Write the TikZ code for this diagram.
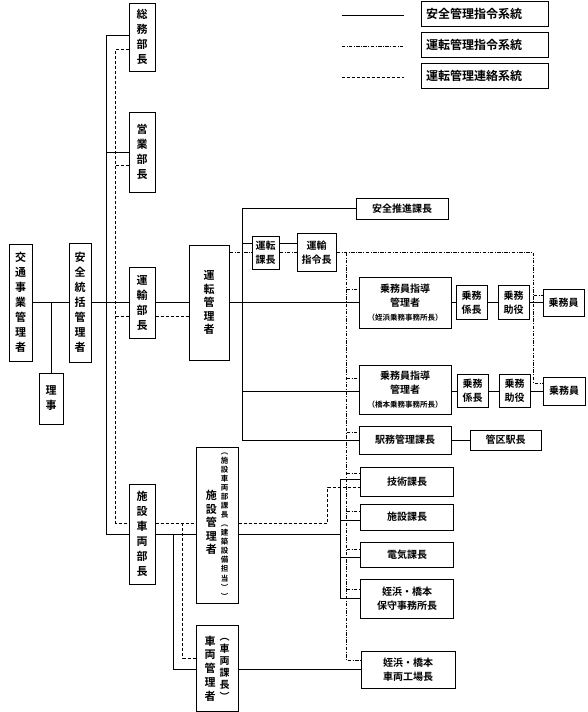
\documentclass[tikz,border=0pt]{standalone}
\usepackage{fontspec}
\setmainfont{Noto Sans CJK JP}[BoldFont={Noto Sans CJK JP Bold}]
\usetikzlibrary{positioning}
\newcommand{\tate}[2][c]{\begin{tabular}[#1]{@{}c@{}}#2\end{tabular}}

\begin{document}
\begin{tikzpicture}[x=1pt,y=-1pt,
 b/.style={draw,line width=1pt,inner sep=1pt,align=center,font=\fontsize{10}{14}\selectfont\bfseries},
 vb/.style={b,font=\fontsize{11}{15}\selectfont\bfseries},
 lg/.style={b,minimum width=127pt,minimum height=25pt,text width=117pt,align=left,font=\fontsize{12}{14}\selectfont\bfseries},
 sl/.style={line width=0.9pt},
 dd/.style={line width=0.9pt,dash pattern=on 3.5pt off 1.5pt on 0.8pt off 1.5pt},
 ds/.style={line width=0.9pt,dash pattern=on 3pt off 2pt}]
\path[use as bounding box,fill=white] (0,0) rectangle (587,712);
% legend
\node[lg] (lg1) at (484.5,13.5) {安全管理指令系統};
\node[lg] (lg2) at (484.5,44.5) {運転管理指令系統};
\node[lg] (lg3) at (484.5,75.5) {運転管理連絡系統};
\foreach \n/\s in {lg1/sl,lg2/dd,lg3/ds}
 \draw[\s] ([xshift=-79pt,yshift=-1.5pt]\n.west) -- ([xshift=-17pt,yshift=-1.5pt]\n.west);
% left column
\node[vb,minimum width=23pt,minimum height=117pt] (kot) at (20.5,302.5) {交\\通\\事\\業\\管\\理\\者};
\node[vb,minimum width=24pt,minimum height=51pt] (rij) at (51,398.5) {理\\事};
\node[vb,minimum width=22pt,minimum height=119pt] (ant) at (80,302.5) {安\\全\\統\\括\\管\\理\\者};
\node[vb,minimum width=26pt,minimum height=68pt] (som) at (142,37) {総\\務\\部\\長};
\node[vb,minimum width=26pt,minimum height=80pt] (eig) at (142,152) {営\\業\\部\\長};
\node[vb,minimum width=26pt,minimum height=71pt] (uny) at (142,302.5) {運\\輸\\部\\長};
\node[vb,minimum width=26pt,minimum height=100pt] (ssb) at (142,534) {施\\設\\車\\両\\部\\長};
\node[vb,minimum width=40pt,minimum height=115pt,font=\fontsize{11}{13.5}\selectfont\bfseries] (unk) at (209,302.5) {運\\転\\管\\理\\者};
\node[b,minimum width=42pt,minimum height=156pt,font=\fontsize{11}{13.5}\selectfont\bfseries] (skr) at (217,525)
 {\tate{施\\設\\管\\理\\者}\hspace{4pt}{\fontsize{7.5}{9}\selectfont\tate{︵\\施\\設\\車\\両\\部\\課\\長\\︵\\建\\築\\設\\備\\担\\当\\︶\\︶}}};
\node[b,minimum width=42pt,minimum height=86pt,font=\fontsize{11}{13.75}\selectfont\bfseries] (srk) at (217,668)
 {\tate[b]{車\\両\\管\\理\\者}\hspace{4pt}{\fontsize{10}{12}\selectfont\tate[b]{︵\\車\\両\\課\\長\\︶}}};
% right part
\node[b,minimum width=27pt,minimum height=33pt] (utk) at (265.5,252.5) {運転\\課長};
\node[b,minimum width=39pt,minimum height=38pt] (ysr) at (316.5,252.5) {運輸\\指令長};
\node[b,minimum width=92pt,minimum height=21pt] (asp) at (402,208.5) {安全推進課長};
\node[b,minimum width=92pt,minimum height=51pt] (jsa) at (405,302.5) {乗務員指導\\管理者\\{\fontsize{7.5}{9}\selectfont （姪浜乗務事務所長）}};
\node[b,minimum width=31pt,minimum height=34pt] (kka) at (471.5,302.5) {乗務\\係長};
\node[b,minimum width=31pt,minimum height=34pt] (joa) at (513.5,302.5) {乗務\\助役};
\node[b,minimum width=41pt,minimum height=27pt] (jia) at (563.5,302.5) {乗務員};
\node[b,minimum width=92pt,minimum height=49pt] (jsb) at (405,389.5) {乗務員指導\\管理者\\{\fontsize{7.5}{9}\selectfont （橋本乗務事務所長）}};
\node[b,minimum width=31pt,minimum height=33pt] (kkb) at (472.5,391) {乗務\\係長};
\node[b,minimum width=31pt,minimum height=33pt] (job) at (514.5,391) {乗務\\助役};
\node[b,minimum width=42pt,minimum height=28pt] (jib) at (564,391) {乗務員};
\node[b,minimum width=92pt,minimum height=28pt] (ekk) at (405,440) {駅務管理課長};
\node[b,minimum width=71pt,minimum height=20pt] (kku) at (505.5,440) {管区駅長};
\node[b,minimum width=93pt,minimum height=29pt] (gjk) at (407,481.5) {技術課長};
\node[b,minimum width=93pt,minimum height=26pt] (skk) at (407,517) {施設課長};
\node[b,minimum width=93pt,minimum height=25pt] (dkk) at (407,554.5) {電気課長};
\node[b,minimum width=93pt,minimum height=39pt] (hsj) at (407,598.5) {姪浜・橋本\\保守事務所長};
\node[b,minimum width=94pt,minimum height=37pt] (skj) at (408,669.5) {姪浜・橋本\\車両工場長};
% trunks
\coordinate (tl) at ([xshift=-22pt]som.west);
\coordinate (tld) at ([xshift=-13pt]som.west);
\coordinate (vr) at ([xshift=13pt]unk.east);
\coordinate (vd) at ([xshift=-12pt]jsa.west);
\coordinate (vj) at ([xshift=-9pt]jia.west);
\coordinate (vs) at ([xshift=-19.5pt]gjk.west);
\coordinate (vx) at ([xshift=-32.5pt]gjk.west);
\coordinate (vc) at ([xshift=-22pt]srk.west);
\coordinate (vcd) at ([xshift=-13pt]srk.west);
\coordinate (d1) at ([yshift=11pt]ssb.east);
% solid
\draw[sl] (kot.east) -- (ant.west);
\draw[sl] (rij.north) -- (rij.north |- kot.east);
\draw[sl] (ant.east) -- (uny.west);
\draw[sl] ([yshift=2pt]som.west) -| (tl |- ssb.west) -- (ssb.west);
\draw[sl] (eig.west) -- (eig.west -| tl);
\draw[sl] (uny.east) -- (unk.west);
\draw[sl] (ssb.east) -- (skr.west |- ssb.east);
\draw[sl] (skr.east |- ssb.east) -- (vs |- ssb.east);
\draw[sl] (unk.east) -- (jsa.west);
\draw[sl] (asp.west) -| (vr) |- (ekk.west);
\coordinate (u1) at ([yshift=9.5pt]utk.west);
\draw[sl] (u1 -| vr) -- (u1);
\draw[sl] (u1 -| utk.east) -- (u1 -| ysr.west);
\draw[sl] (jsa.east) -- (kka.west) (kka.east) -- (joa.west) (joa.east) -- (jia.west);
\draw[sl] (vr |- kkb.west) -- (jsb.west |- kkb.west);
\draw[sl] (jsb.east |- kkb.west) -- (kkb.west) (kkb.east) -- (job.west) (job.east) -- (jib.west);
\draw[sl] (ekk.east) -- (kku.west);
\draw[sl] ([yshift=2.5pt]gjk.west) -| (vs |- hsj.west) -- (hsj.west);
\draw[sl] ([yshift=-3pt]skk.west) -- ([yshift=-3pt]skk.west -| vs);
\draw[sl] ([yshift=-2.5pt]dkk.west) -- ([yshift=-2.5pt]dkk.west -| vs);
\draw[sl] (vc |- ssb.east) |- (srk.west |- skj.west);
\draw[sl] (srk.east |- skj.west) -- (skj.west);
% dashed
\draw[ds] ([yshift=-12pt]som.west) -| (tld |- d1) -- (d1 -| ssb.west);
\coordinate (e2) at ([yshift=-13pt]eig.west);
\draw[ds] (e2) -- (e2 -| tld);
\coordinate (u2) at ([yshift=-13.5pt]uny.west);
\draw[ds] (u2) -- (u2 -| tld);
\draw[ds] (u2 -| uny.east) -- (u2 -| unk.west);
\draw[ds] (d1) -- (d1 -| skr.west);
\coordinate (g2) at ([yshift=-5.5pt]gjk.west);
\draw[ds] (d1 -| skr.east) -| (vx |- g2) -- (g2);
\draw[ds] (vcd |- d1) |- ([yshift=10pt]srk.west);
% dash-dot
\draw[dd] (unk.east |- utk.west) -- (utk.west);
\draw[dd] (utk.east) -- (ysr.west);
\coordinate (j2) at ([yshift=8pt]jib.west);
\draw[dd] (ysr.east) -| (vj |- j2) -- (j2);
\coordinate (j1) at ([yshift=7.5pt]jia.west);
\draw[dd] (vj |- j1) -- (j1);
\coordinate (k1) at ([yshift=9.5pt]skj.west);
\draw[dd] (vd |- ysr.east) |- (k1);
\foreach \n/\dy in {jsa/13.5,jsb/11.5,ekk/8,gjk/8.5,skk/6,dkk/5.5,hsj/9.5}{
 \coordinate (p) at ([yshift=\dy pt]\n.west);
 \draw[dd] (p -| vd) -- (p);}
\end{tikzpicture}
\end{document}
